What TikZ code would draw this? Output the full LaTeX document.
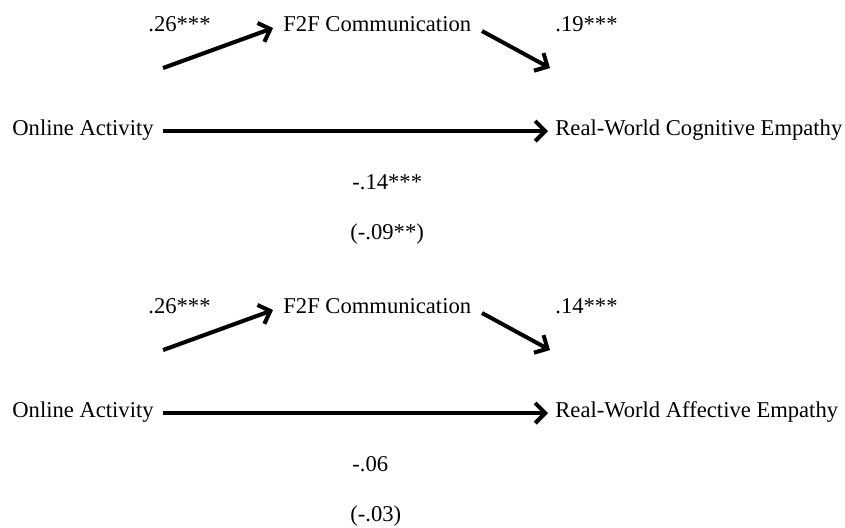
\documentclass[tikz,border=0pt]{standalone}
\usepackage{fontspec}
\setmainfont{Liberation Serif}
\usetikzlibrary{arrows.meta}

\begin{document}
\begin{tikzpicture}[x=0.5pt, y=-0.5pt, font=\fontsize{11.3}{13.5}\selectfont,
  txt/.style={inner sep=0pt, anchor=base west},
  arr/.style={line width=2pt, -{Straight Barb[length=5pt,width=10pt,line width=2pt]},
    preaction={draw=black!25, transform canvas={shift={(0.6pt,-0.8pt)}}}}]
\useasboundingbox (0,0) rectangle (845,527);

% cognitive empathy
\node[txt] (oa1) at (12,135) {Online Activity};
\node[txt] (rw1) at (555,135) {Real-World Cognitive Empathy};
\node[txt] (ff1) at (283,31) {F2F Communication};
\node[txt] (pa1) at (148,31) {.26***};
\node[txt] (pb1) at (555,31) {.19***};
\node[txt] (pc1) at (352,189) {-.14***};
\node[txt] (pd1) at (350,239) {(-.09**)};
\coordinate (s1) at (163,68);
\coordinate (t1) at (273,28);
\coordinate (u1) at (482,31);
\coordinate (v1) at (550,68);
\draw[arr] (s1) -- (t1);
\draw[arr] (u1) -- (v1);
\draw[arr, shorten >=3.5pt] (oa1.east |- 0,131) ++(9,0) -- (rw1.west |- 0,131);

% affective empathy
\node[txt] (oa2) at (12,417) {Online Activity};
\node[txt] (rw2) at (555,417) {Real-World Affective Empathy};
\node[txt] (ff2) at (283,313) {F2F Communication};
\node[txt] (pa2) at (148,313) {.26***};
\node[txt] (pb2) at (555,313) {.14***};
\node[txt] (pc2) at (352,471) {-.06};
\node[txt] (pd2) at (350,521) {(-.03)};
\coordinate (s2) at (163,350);
\coordinate (t2) at (273,310);
\coordinate (u2) at (482,313);
\coordinate (v2) at (550,350);
\draw[arr] (s2) -- (t2);
\draw[arr] (u2) -- (v2);
\draw[arr, shorten >=3.5pt] (oa2.east |- 0,413) ++(9,0) -- (rw2.west |- 0,413);
\end{tikzpicture}
\end{document}
